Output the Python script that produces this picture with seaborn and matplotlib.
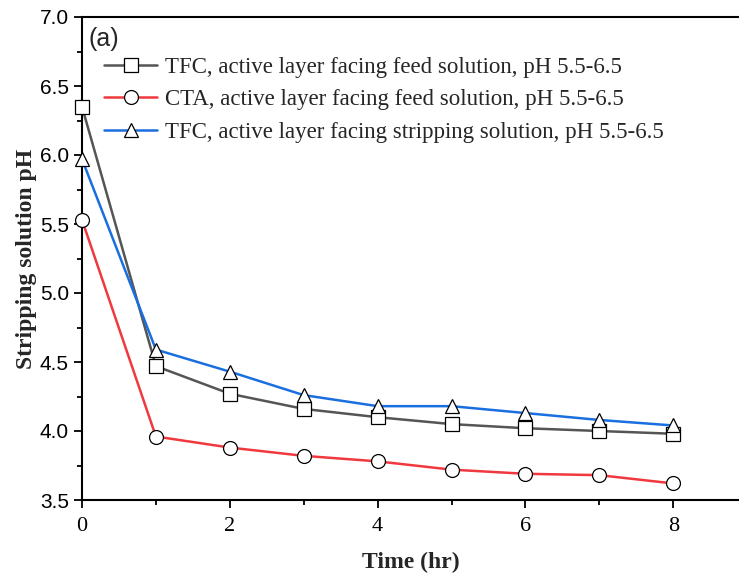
import numpy as np
import pandas as pd
import matplotlib
matplotlib.use("Agg")
import matplotlib.pyplot as plt
from matplotlib.ticker import MultipleLocator, FormatStrFormatter
import seaborn as sns

time_hr = [0, 1, 2, 3, 4, 5, 6, 7, 8]
tfc_feed = [6.35, 4.47, 4.27, 4.16, 4.10, 4.05, 4.02, 4.00, 3.98]
cta_feed = [5.53, 3.96, 3.88, 3.82, 3.78, 3.72, 3.69, 3.68, 3.62]
tfc_strip = [5.97, 4.59, 4.43, 4.26, 4.18, 4.18, 4.13, 4.08, 4.04]
series_names = [
    "TFC, active layer facing feed solution, pH 5.5-6.5",
    "CTA, active layer facing feed solution, pH 5.5-6.5",
    "TFC, active layer facing stripping solution, pH 5.5-6.5",
]
series_values = [tfc_feed, cta_feed, tfc_strip]

rows = []
for name, vals in zip(series_names, series_values):
    for t, v in zip(time_hr, vals):
        rows.append({"Time": t, "pH": v, "Series": name})
df = pd.DataFrame(rows)

sns.set_style("ticks")
plt.rcParams["font.family"] = ["Liberation Serif", "DejaVu Serif"]

colors = ["#555555", "#f0393f", "#1a6fe0"]
markers = ["s", "o", "^"]

fig = plt.figure(figsize=(7.39, 5.76), dpi=100)
ax = fig.add_axes([82 / 739, 1 - 500 / 576, 1 - 82 / 739, (500 - 17) / 576])

for name, c, m in zip(series_names, colors, markers):
    sub = df[df["Series"] == name]
    sns.lineplot(data=sub, x="Time", y="pH", ax=ax, color=c, marker=m,
                 markersize=10, markerfacecolor="white", markeredgecolor="black",
                 markeredgewidth=0.9, linewidth=1.8, label=name, zorder=3,
                 clip_on=False)

ax.set_xlim(0, 8.89)
ax.set_ylim(3.5, 7.0)
ax.xaxis.set_major_locator(MultipleLocator(2))
ax.xaxis.set_minor_locator(MultipleLocator(1))
ax.yaxis.set_major_locator(MultipleLocator(0.5))
ax.yaxis.set_minor_locator(MultipleLocator(0.25))
ax.yaxis.set_major_formatter(FormatStrFormatter("%.1f"))
ax.tick_params(axis="both", which="major", direction="out", length=6, width=1.3, colors="black")
ax.tick_params(axis="both", which="minor", direction="out", length=3.5, width=1.3, colors="black")
ax.tick_params(axis="y", labelsize=15)
ax.tick_params(axis="x", labelsize=16, pad=6)
for lab in ax.get_yticklabels():
    lab.set_family(["Liberation Sans", "DejaVu Sans"])
for lab in ax.get_xticklabels():
    lab.set_family(["Liberation Serif", "DejaVu Serif"])
for s in ["left", "bottom", "top"]:
    ax.spines[s].set_linewidth(1.5)
    ax.spines[s].set_color("black")
ax.spines["right"].set_visible(False)

ax.set_xlabel("Time (hr)", fontsize=17, fontweight="bold", labelpad=12)
ax.set_ylabel("Stripping solution pH", fontsize=17, fontweight="bold", labelpad=2)

ax.text(0.01, 0.955, "(a)", transform=ax.transAxes, fontsize=18,
        family=["Liberation Sans", "DejaVu Sans"], va="center", ha="left")

leg = ax.legend(loc="upper left", bbox_to_anchor=(0.02, 0.937), frameon=False,
                fontsize=16.5, handlelength=2.3, handletextpad=0.35,
                labelspacing=0.5, borderaxespad=0)

fig.savefig("out.png", dpi=100)
